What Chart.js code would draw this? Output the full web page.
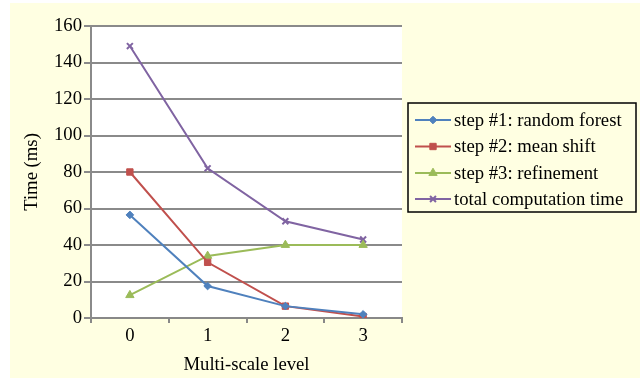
<!DOCTYPE html>
<html><head><meta charset="utf-8">
<script src="https://cdn.jsdelivr.net/npm/chart.js@4/dist/chart.umd.min.js"></script>
<style>html,body{margin:0;padding:0;background:#fff;}#wrap{width:641px;height:379px;position:relative;}</style>
</head><body><div id="wrap"><canvas id="c" width="641" height="379"></canvas></div>
<script>
const categories = ['0', '1', '2', '3'];
const seriesNames = ['step #1: random forest', 'step #2: mean shift', 'step #3: refinement', 'total computation time'];
const randomForest = [56.5, 17.5, 6.5, 2];
const meanShift = [80, 30.5, 6.5, 0.8];
const refinement = [12.5, 34, 40, 40];
const totalTime = [149, 82, 53, 43];
const yTicks = [0, 20, 40, 60, 80, 100, 120, 140, 160];

const colors = ['#4F81BD', '#C0504D', '#9BBB59', '#8064A2'];
const pstyles = ['rectRot', 'rect', 'triangle', 'crossRot'];
const pradius = [3.8, 4.5, 4.8, 4.2];
const FONT = 'Liberation Serif';
const FS = 18.7;
const BG = '#FFFFE2';

const allData = [randomForest, meanShift, refinement, totalTime];
const datasets = allData.map((d, i) => ({
  label: seriesNames[i], data: d,
  borderColor: colors[i], backgroundColor: colors[i],
  borderWidth: 2, pointStyle: pstyles[i], pointRadius: pradius[i],
  pointBorderWidth: i === 3 ? 2 : 1, pointBorderColor: colors[i], pointBackgroundColor: colors[i],
  tension: 0
}));

const bgPlugin = {
  id: 'bg',
  beforeDraw(chart) {
    const ctx = chart.ctx, a = chart.chartArea;
    ctx.save();
    ctx.fillStyle = BG;
    ctx.fillRect(10, 3, 630, 375);
    ctx.fillStyle = '#FFFFFF';
    ctx.fillRect(a.left, a.top, a.right - a.left, a.bottom - a.top);
    ctx.restore();
  }
};

const legendPlugin = {
  id: 'customLegend',
  afterDraw(chart) {
    const ctx = chart.ctx;
    const x0 = 408, y0 = 103, w = 228, h = 109;
    ctx.save();
    ctx.fillStyle = BG;
    ctx.fillRect(x0, y0, w, h);
    ctx.strokeStyle = '#000';
    ctx.lineWidth = 1.5;
    ctx.strokeRect(x0, y0, w, h);
    const rows = [120, 146.5, 173, 199];
    chart.data.datasets.forEach((ds, i) => {
      const y = rows[i];
      ctx.strokeStyle = ds.borderColor;
      ctx.lineWidth = 2;
      ctx.beginPath(); ctx.moveTo(415, y); ctx.lineTo(451, y); ctx.stroke();
      ctx.fillStyle = ds.backgroundColor;
      ctx.lineWidth = ds.pointBorderWidth;
      if (Chart.helpers && Chart.helpers.drawPoint) {
        Chart.helpers.drawPoint(ctx, {pointStyle: ds.pointStyle, radius: ds.pointRadius, borderWidth: ds.pointBorderWidth, rotation: 0}, 433, y);
      }
      ctx.fillStyle = '#000';
      ctx.font = FS + 'px "' + FONT + '"';
      ctx.textBaseline = 'middle';
      ctx.textAlign = 'left';
      ctx.fillText(ds.label, 454, y + 1);
    });
    ctx.restore();
  }
};

new Chart(document.getElementById('c'), {
  type: 'line',
  data: { labels: categories, datasets },
  plugins: [bgPlugin, legendPlugin],
  options: {
    responsive: false, animation: false, devicePixelRatio: 1,
    layout: { padding: { top: 26, right: 239, left: 0, bottom: 0 } },
    plugins: { legend: { display: false }, tooltip: { enabled: false } },
    scales: {
      x: {
        type: 'category', offset: true,
        grid: { display: true, drawOnChartArea: false, offset: true, color: '#888', lineWidth: 2, tickLength: 5 },
        border: { display: true, color: '#888', width: 2 },
        ticks: { color: '#000', font: { family: FONT, size: FS }, padding: 2, maxRotation: 0 },
        title: { display: true, text: 'Multi-scale level', color: '#000', font: { family: FONT, size: FS }, padding: { top: 0, bottom: 3 } },
        afterFit(s) { s.height = 61; }
      },
      y: {
        min: 0, max: 160,
        afterBuildTicks(s) { s.ticks = yTicks.map(v => ({ value: v })); },
        grid: { color: '#8a8a8a', lineWidth: 2, tickLength: 7, drawTicks: true },
        border: { display: true, color: '#8a8a8a', width: 2 },
        ticks: { color: '#000', font: { family: FONT, size: FS }, padding: 2 },
        title: { display: true, text: 'Time (ms)', color: '#000', font: { family: FONT, size: FS }, padding: { top: 21, bottom: 0 } },
        afterFit(s) { s.width = 91; }
      }
    }
  }
});
</script></body></html>
